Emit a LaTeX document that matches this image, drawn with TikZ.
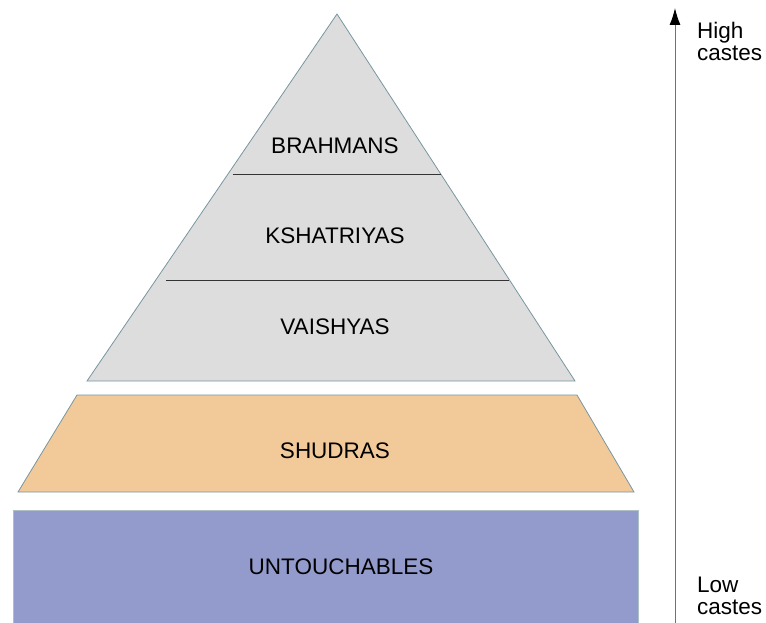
\documentclass[tikz,border=0pt]{standalone}
\usepackage{fontspec}
\setmainfont{Liberation Sans}
\usetikzlibrary{arrows.meta, positioning}

\definecolor{castegray}{RGB}{221,221,221}
\definecolor{casteorange}{RGB}{242,201,153}
\definecolor{casteblue}{RGB}{147,155,204}
\definecolor{edgeblue}{RGB}{120,150,160}

\begin{document}
\begin{tikzpicture}[
    x=1pt, y=-1pt,
    layer/.style = {draw=edgeblue, line width=0.8pt},
    divider/.style = {draw=black!80, line width=0.8pt},
    label/.style = {font=\fontsize{22.5}{24}\selectfont, text=black, inner sep=0pt},
    side/.style = {font=\fontsize{22.5}{22}\selectfont, text=black, align=left, inner sep=0pt, anchor=west},
    arrow/.style = {-{Latex[length=17pt, width=11pt, color=black]}, draw=edgeblue!80!black, line width=1pt}
]
\useasboundingbox (0,0) rectangle (766,623);

% Define shapes
\fill[castegray, layer] (337,14) -- (575,381) -- (87,381) -- cycle;
\draw[divider] (233,174) -- (441,174);
\draw[divider] (166,280) -- (509,280);
\fill[casteorange, layer] (77,395) -- (577,395) -- (634,492) -- (18,492) -- cycle;
\fill[casteblue] (13,510) rectangle (638,623);
\draw[edgeblue!60, line width=0.6pt] (13,623) -- (13,510) -- (638,510) -- (638,623);

% Define nodes
\node[label] (brahmans) at (335,146) {BRAHMANS};
\node[label] (kshatriyas) at (335,236) {KSHATRIYAS};
\node[label] (vaishyas) at (335,327) {VAISHYAS};
\node[label] (shudras) at (335,451) {SHUDRAS};
\node[label] (untouchables) at (341,567) {UNTOUCHABLES};
\coordinate (low) at (675,623);
\coordinate (high) at (675,8);
\node[side] (highlabel) at (697,41) {High\\castes};
\node[side] (lowlabel) at (697,596) {Low\\castes};

% Draw arrows
\draw[arrow] (low) -- (high);

\end{tikzpicture}
\end{document}
